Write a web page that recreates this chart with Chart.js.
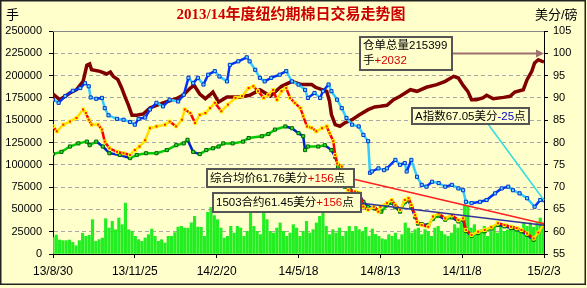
<!DOCTYPE html>
<html>
<head>
<meta charset="utf-8">
<script src="https://cdn.jsdelivr.net/npm/chart.js@4.4.1/dist/chart.umd.min.js"></script>
<style>
  html, body { margin: 0; padding: 0; background: #ffffcc; }
  canvas { display: block; }
</style>
</head>
<body>
<canvas id="chartCotton" width="587" height="288"></canvas>
<script>
/* ===================================
   纽约期棉日交易走势图 - data
   =================================== */

// x axis: days since 13/8/30, one label every 87 days
const xLabels = ['13/8/30', '13/11/25', '14/2/20', '14/5/18', '14/8/13', '14/11/8', '15/2/3'];
const tickStep = 87;
const totalDays = 522;

// 成交量 (手), one bar every 3.5 days
const volumeStep = 3.5;
const volume = [
  18500, 21300, 15700, 15000, 15000, 15700, 13000, 9300, 15000, 23200,
  19800, 21000, 38500, 14200, 16100, 17900, 39600, 29100, 36600, 27200,
  40400, 32900, 57000, 27200, 25400, 19800, 16100, 14200, 18000, 21700,
  28000, 19800, 14200, 16000, 12300, 19800, 19800, 24000, 30200, 31000,
  29100, 29100, 35000, 42200, 30200, 29900, 19800, 46700, 52300, 43000,
  38500, 29100, 17900, 19800, 31000, 23500, 31000, 29100, 19800, 25400,
  47800, 31000, 25400, 21700, 47800, 38500, 25400, 23500, 29100, 34800,
  25400, 19800, 23500, 32900, 29100, 19800, 25400, 36600, 23500, 27300,
  34800, 42200, 47800, 31000, 21700, 27300, 23500, 29100, 19800, 25400,
  31000, 25400, 31000, 27300, 25000, 30000, 20000, 28000, 22000, 19800,
  17000, 16100, 21700, 19800, 23500, 16100, 21700, 34800, 29100, 23500,
  27300, 29100, 21700, 27300, 25400, 19800, 29100, 31000, 25400, 21700,
  19800, 23500, 32900, 29100, 34800, 55300, 53400, 29100, 32900, 21700,
  27300, 31000, 19800, 25000, 29100, 23500, 31000, 25400, 27000, 29100,
  31000, 25400, 28000, 34800, 31000, 34800, 30000, 34800, 40400, 34800
];

// 仓单总量 (手)
const stockDays = [
  0, 7, 13, 18, 25, 32, 36, 39, 41, 50, 57, 61, 64, 69, 73, 77, 80, 84, 89, 96,
  103, 110, 117, 131, 139, 146, 150, 156, 162, 167, 170, 176, 185, 199, 209, 220, 231, 243, 254, 264,
  275, 279, 286, 291, 294, 296, 300, 305, 310, 318, 325, 335, 342, 348, 355, 362, 369, 380, 387, 397,
  408, 417, 426, 431, 436, 441, 445, 450, 457, 461, 468, 479, 486, 491, 500, 504, 509, 512, 516, 520, 522
];
const stockLots = [
  179400, 173000, 176800, 180500, 184200, 193600, 211500, 213000, 206600, 204800,
  201800, 204000, 199200, 195400, 186100, 175000, 167400, 155500, 155500, 157000,
  163700, 166700, 169300, 174100, 178600, 186100, 189100, 179400, 174100, 178600,
  181600, 170400, 176000, 176000, 178000, 184000, 177000, 188000, 193600, 189900,
  189900, 186900, 184200, 182400, 171200, 156200, 145000, 143200, 146900, 150600,
  155500, 161800, 164800, 165600, 166700, 173000, 176800, 184200, 182400, 186900,
  189900, 193600, 199200, 197300, 189000, 182400, 173000, 173000, 175000, 177900,
  174100, 175600, 176800, 181600, 184200, 195400, 204800, 214100, 217800, 216000, 215399
];

// A指数 (美分/磅)
const indexDays = [
  0, 6, 13, 21, 29, 34, 38, 40, 46, 52, 55, 59, 68, 75, 82, 87, 91, 98, 103, 110,
  117, 124, 133, 139, 144, 149, 154, 160, 165, 172, 177, 185, 188, 197, 206, 209, 215, 220, 225, 232,
  241, 248, 254, 261, 268, 271, 278, 284, 287, 293, 296, 302, 307, 312, 318, 325, 330, 335, 337, 339,
  346, 352, 355, 364, 369, 374, 376, 381, 387, 392, 397, 403, 410, 417, 424, 431, 436, 439, 445, 454,
  461, 470, 477, 484, 489, 496, 504, 512, 518, 522
];
const indexCents = [
  89.6, 88.9, 90.4, 91.6, 92.2, 93.3, 92.6, 90.1, 89.8, 90.0,
  87.7, 86.1, 85.3, 85.1, 84.6, 84.0, 85.3, 85.6, 87.4, 88.9,
  88.1, 89.6, 89.2, 90.7, 94.5, 93.3, 94.5, 93.0, 95.2, 96.0,
  94.8, 93.7, 97.4, 98.2, 99.1, 98.2, 96.3, 94.5, 93.7, 94.5,
  95.2, 96.0, 93.7, 93.0, 91.8, 90.0, 91.1, 90.0, 91.5, 93.0,
  91.5, 89.6, 87.7, 85.5, 84.0, 83.6, 81.7, 80.3, 73.2, 73.5,
  74.2, 73.8, 74.2, 76.1, 75.0, 75.4, 73.5, 76.1, 72.3, 70.5,
  70.1, 71.2, 70.9, 70.1, 70.5, 69.7, 69.3, 66.7, 66.4, 66.7,
  67.1, 68.6, 69.7, 70.1, 69.3, 68.6, 67.5, 65.6, 67.1, 67.05
];

// 综合均价 (美分/磅)
const avgDays = [
  0, 4, 11, 18, 25, 32, 35, 38, 41, 48, 52, 55, 60, 68, 75, 82, 87, 92, 98, 103,
  110, 119, 124, 131, 137, 140, 146, 151, 156, 162, 167, 172, 179, 186, 194, 201, 208, 213, 218, 224,
  229, 234, 238, 243, 248, 252, 257, 263, 266, 270, 275, 280, 286, 291, 294, 298, 300, 302, 307, 314,
  321, 326, 330, 335, 341, 346, 348, 355, 360, 364, 369, 374, 378, 381, 385, 387, 392, 399, 404, 410,
  417, 424, 431, 436, 439, 445, 452, 459, 466, 473, 480, 487, 493, 498, 504, 511, 516, 522
];
const avgCents = [
  83.6, 82.5, 84.0, 84.7, 85.5, 87.4, 86.6, 85.1, 84.0, 84.0,
  82.9, 80.2, 78.7, 77.9, 77.6, 77.2, 78.3, 79.1, 80.5, 83.2,
  83.6, 84.0, 84.7, 83.6, 85.1, 87.4, 86.6, 84.4, 86.2, 86.6,
  87.7, 88.9, 87.0, 88.5, 90.0, 90.4, 92.2, 92.6, 91.5, 90.0,
  90.7, 91.8, 89.6, 91.5, 92.2, 90.0, 88.9, 87.7, 85.9, 83.6,
  83.3, 82.5, 83.2, 83.6, 82.1, 80.3, 77.2, 75.3, 74.6, 69.3,
  69.0, 68.6, 65.6, 64.9, 65.6, 64.5, 65.6, 66.4, 67.1, 66.0,
  64.9, 67.1, 67.5, 66.0, 63.7, 62.2, 61.5, 61.1, 63.4, 64.1,
  63.0, 63.7, 62.6, 63.0, 60.4, 59.3, 60.0, 60.4, 61.0, 61.9,
  61.5, 61.1, 60.8, 60.4, 59.6, 58.5, 59.8, 61.76
];

// 1503合约 (美分/磅)
const mar15Days = [
  0, 9, 18, 27, 36, 39, 46, 53, 60, 71, 82, 89, 99, 110, 121, 131, 139, 143, 149, 156,
  163, 170, 176, 181, 191, 202, 208, 222, 229, 236, 247, 254, 261, 266, 268, 271, 282, 289, 296, 300,
  303, 310, 316, 325, 330, 335, 342, 349, 355, 360, 364, 369, 374, 378, 381, 385, 388, 392, 399, 404,
  410, 417, 424, 431, 436, 439, 445, 452, 459, 466, 473, 480, 487, 493, 498, 504, 511, 516, 522
];
const mar15Cents = [
  77.4, 77.9, 79.1, 79.8, 80.2, 79.4, 80.2, 79.1, 77.6, 77.2,
  76.5, 77.2, 77.6, 77.6, 78.3, 79.4, 79.8, 80.6, 77.9, 77.4,
  78.3, 78.7, 79.1, 79.8, 79.8, 80.2, 81.0, 81.4, 81.9, 82.9,
  83.6, 83.2, 82.1, 81.4, 78.3, 79.1, 79.1, 79.4, 78.3, 76.8,
  74.6, 70.1, 69.3, 68.6, 66.7, 65.6, 65.2, 64.5, 65.9, 66.5,
  65.5, 64.5, 66.6, 67.0, 65.5, 63.3, 61.8, 61.7, 61.5, 62.9,
  63.6, 62.7, 63.2, 62.3, 62.6, 60.2, 59.1, 59.7, 60.1, 60.7,
  61.5, 61.2, 60.8, 60.5, 60.1, 59.3, 58.2, 59.7, 61.45
];

// day-on-day changes shown in the notes
const stockChange = '+2032';
const indexChange = '-25';
const avgChange = '+156';
const mar15Change = '+156';


/* ===================================
   helpers
   =================================== */
const FONT = '"Liberation Sans", "Noto Sans CJK SC", sans-serif';

function toPoints(days, values) {
  return days.map((d, i) => ({ x: d, y: values[i] }));
}

// rising / falling segments get different colours, like the original plot
function upDown(upColor, downColor) {
  return ctx => ctx.p1.parsed.y < ctx.p0.parsed.y ? downColor : upColor;
}

function drawRich(ctx, parts, x, y) {
  parts.forEach(p => {
    ctx.fillStyle = p[1];
    ctx.fillText(p[0], x, y);
    x += ctx.measureText(p[0]).width;
  });
}

function drawBox(ctx, x, y, w, h) {
  ctx.fillStyle = '#ffffcc';
  ctx.fillRect(x, y, w, h);
  ctx.strokeStyle = '#555555';
  ctx.lineWidth = 2;
  ctx.strokeRect(x, y, w, h);
}

function drawLine(ctx, x1, y1, x2, y2, color, width) {
  ctx.strokeStyle = color;
  ctx.lineWidth = width;
  ctx.beginPath();
  ctx.moveTo(x1, y1);
  ctx.lineTo(x2, y2);
  ctx.stroke();
}

const last = arr => arr[arr.length - 1];


/* ===================================
   decorations: background, title, notes
   =================================== */
const decorPlugin = {
  id: 'decor',

  beforeDraw(chart) {
    const ctx = chart.ctx;
    ctx.save();
    ctx.fillStyle = '#ffffcc';
    ctx.fillRect(0, 0, chart.width, chart.height);
    ctx.restore();
  },

  beforeDatasetsDraw(chart) {
    const { ctx, chartArea } = chart;
    ctx.save();
    drawLine(ctx, chartArea.left, chartArea.top + 0.5, chartArea.right, chartArea.top + 0.5, '#888888', 1);
    ctx.restore();
  },

  afterDatasetsDraw(chart) {
    const { ctx, chartArea } = chart;
    const xs = chart.scales.x;
    const yr = chart.scales.y1;
    ctx.save();

    // connectors from the notes to the latest values
    const ax = xs.getPixelForValue(last(indexDays));
    const ay = yr.getPixelForValue(last(indexCents));
    drawLine(ctx, 488, 124, ax, ay, '#33dddd', 1.5);

    const rx = xs.getPixelForValue(last(avgDays));
    const ry = yr.getPixelForValue(last(avgCents));
    drawLine(ctx, 353, 179, rx, ry, '#ff2020', 1.5);

    const mx = xs.getPixelForValue(last(mar15Days));
    const my = yr.getPixelForValue(last(mar15Cents));
    drawLine(ctx, 360, 203, mx, my, '#333399', 1.5);

    // arrow to the right axis
    drawLine(ctx, 452, 53.5, chartArea.right - 6, 53.5, '#a07070', 2);
    ctx.fillStyle = '#a07070';
    ctx.beginPath();
    ctx.moveTo(chartArea.right, 53.5);
    ctx.lineTo(chartArea.right - 8, 49.5);
    ctx.lineTo(chartArea.right - 8, 57.5);
    ctx.closePath();
    ctx.fill();

    // note boxes
    ctx.font = '11.5px ' + FONT;
    ctx.textBaseline = 'middle';
    ctx.textAlign = 'left';

    drawBox(ctx, 360, 37, 92, 33);
    drawRich(ctx, [['仓单总量' + last(stockLots), '#000000']], 363, 46);
    drawRich(ctx, [['手', '#000000'], [stockChange, '#cc0000']], 363, 61);

    drawBox(ctx, 412, 108, 117, 16);
    drawRich(ctx, [['A指数' + last(indexCents).toFixed(2) + '美分', '#000000'], [indexChange, '#0000cc'], ['点', '#000000']], 415, 116.5);

    drawBox(ctx, 207, 169, 147, 18);
    drawRich(ctx, [['综合均价' + last(avgCents).toFixed(2) + '美分', '#000000'], [avgChange, '#dd0000'], ['点', '#000000']], 210, 178.5);

    drawBox(ctx, 213, 193, 148, 19);
    drawRich(ctx, [['1503合约' + last(mar15Cents).toFixed(2) + '美分', '#000000'], [mar15Change, '#dd0000'], ['点', '#000000']], 216, 203);

    ctx.restore();
  },

  afterDraw(chart) {
    const ctx = chart.ctx;
    ctx.save();

    // title
    ctx.font = 'bold 15px "Liberation Serif", "Noto Sans CJK SC", serif';
    ctx.fillStyle = '#cc0000';
    ctx.textAlign = 'center';
    ctx.textBaseline = 'middle';
    ctx.fillText('2013/14年度纽约期棉日交易走势图', 291, 15);

    // axis units
    ctx.font = '13px ' + FONT;
    ctx.fillStyle = '#000000';
    ctx.textAlign = 'left';
    ctx.fillText('手', 6, 15);
    ctx.fillText('美分/磅', 535, 15);

    // outer frame
    ctx.strokeStyle = '#222222';
    ctx.lineWidth = 1.5;
    ctx.strokeRect(0.75, 0.75, 584.5, 283.5);

    ctx.restore();
  }
};


/* ===================================
   chart
   =================================== */
const ctx = document.getElementById('chartCotton').getContext('2d');

new Chart(ctx, {

  type: 'line',

  data: {
    datasets: [
      {
        label: '仓单总量',
        data: toPoints(stockDays, stockLots),
        yAxisID: 'y',
        borderColor: '#800000',
        borderWidth: 3.5,
        pointRadius: 0,
        order: 2
      },
      {
        label: 'A指数',
        data: toPoints(indexDays, indexCents),
        yAxisID: 'y1',
        borderColor: '#33ccff',
        borderWidth: 2.5,
        segment: { borderColor: upDown('#0033ff', '#33ccff') },
        pointStyle: 'rect',
        pointRadius: 2.2,
        pointBackgroundColor: '#66ddff',
        pointBorderColor: '#0033cc',
        pointBorderWidth: 1,
        order: 1
      },
      {
        label: '综合均价',
        data: toPoints(avgDays, avgCents),
        yAxisID: 'y1',
        borderColor: '#ff0000',
        borderWidth: 2.5,
        segment: { borderColor: upDown('#ffdd00', '#ff0000') },
        pointStyle: 'rect',
        pointRadius: 2.2,
        pointBackgroundColor: '#ff2200',
        pointBorderColor: '#ffff00',
        pointBorderWidth: 1,
        order: 1
      },
      {
        label: '1503合约',
        data: toPoints(mar15Days, mar15Cents),
        yAxisID: 'y1',
        borderColor: '#00cc00',
        borderWidth: 2.5,
        segment: { borderColor: upDown('#00cc00', '#0022cc') },
        pointStyle: 'rect',
        pointRadius: 2.2,
        pointBackgroundColor: '#33dd33',
        pointBorderColor: '#006600',
        pointBorderWidth: 1,
        order: 1
      },
      {
        type: 'bar',
        label: '成交量',
        data: volume.map((v, i) => ({ x: i * volumeStep, y: v })),
        yAxisID: 'y',
        backgroundColor: '#22ee22',
        barThickness: 2.5,
        order: 10
      }
    ]
  },

  options: {
    responsive: false,
    animation: false,
    devicePixelRatio: 1,
    layout: { padding: { top: 31, left: 0, right: 0, bottom: 0 } },
    plugins: {
      legend: { display: false },
      tooltip: { enabled: false }
    },
    scales: {
      x: {
        type: 'linear',
        min: 0,
        max: totalDays,
        offset: false,
        afterBuildTicks: scale => {
          scale.ticks = xLabels.map((l, i) => ({ value: i * tickStep }));
        },
        ticks: {
          autoSkip: false,
          maxRotation: 0,
          padding: 6,
          color: '#000000',
          font: { size: 12, family: FONT },
          callback: v => xLabels[Math.round(v / tickStep)]
        },
        grid: { drawOnChartArea: false, offset: false, tickLength: 4, color: '#000000' },
        border: { color: '#000000' },
        afterFit: scale => { scale.height = 34; }
      },
      y: {
        position: 'left',
        min: 0,
        max: 250000,
        ticks: {
          stepSize: 25000,
          padding: 7,
          color: '#000000',
          font: { size: 11, family: FONT },
          callback: v => String(v)
        },
        grid: {
          color: c => (c.tick && (c.tick.value === 0 || c.tick.value === 250000)) ? 'rgba(0,0,0,0)' : '#a8a8a8',
          tickColor: '#000000',
          tickLength: 4
        },
        border: { color: '#000000', dash: [4, 3] },
        afterFit: scale => { scale.width = 53; }
      },
      y1: {
        position: 'right',
        min: 55,
        max: 105,
        ticks: {
          stepSize: 5,
          padding: 5,
          color: '#000000',
          font: { size: 11, family: FONT },
          callback: v => String(v)
        },
        grid: { drawOnChartArea: false, tickColor: '#000000', tickLength: 4 },
        border: { color: '#000000' },
        afterFit: scale => { scale.width = 43; }
      }
    }
  },

  plugins: [decorPlugin]

});
</script>
</body>
</html>
